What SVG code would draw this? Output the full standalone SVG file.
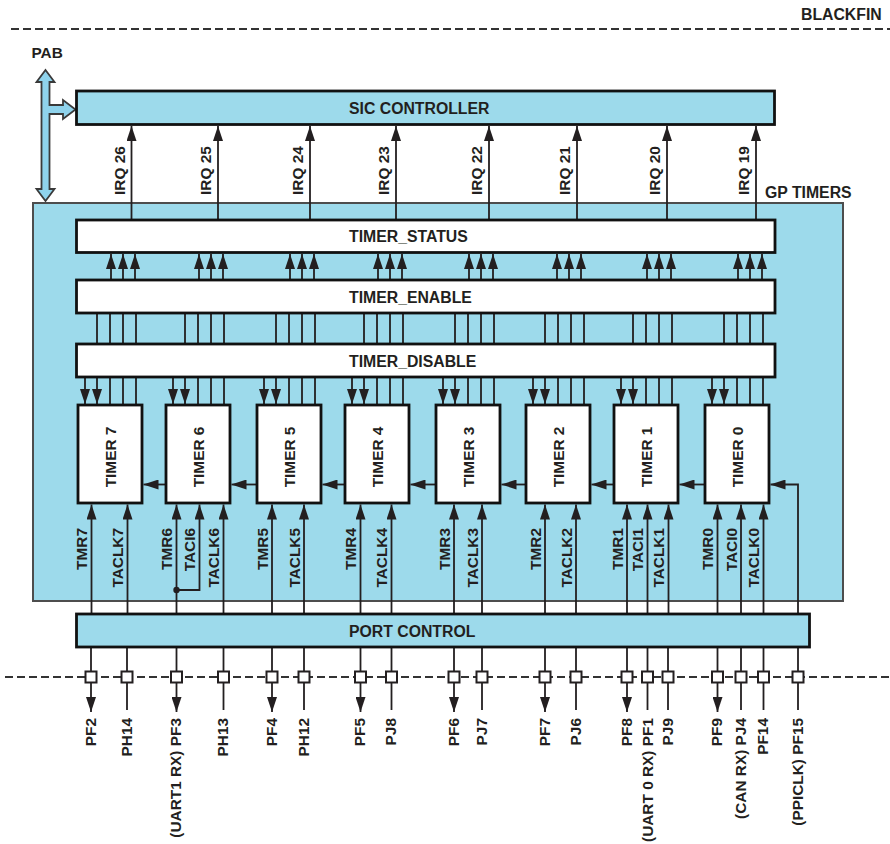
<svg xmlns="http://www.w3.org/2000/svg" width="890" height="844" viewBox="0 0 890 844">
<style>
.t{font-family:"Liberation Sans",Arial,Helvetica,sans-serif;font-weight:bold;font-size:15.4px;fill:#231f20}
.h{font-size:15.8px}
.ln{stroke:#231f20;stroke-width:1.8;fill:none}
.ar{stroke:#231f20;stroke-width:1.8;fill:none;marker-end:url(#ah)}
.blue{fill:#9ddaeb;stroke:#111;stroke-width:2.8}
.white{fill:#fff;stroke:#111;stroke-width:2.8}
.dash{stroke:#333;stroke-width:2;stroke-dasharray:8 4;fill:none}
.sq{fill:#fff;stroke:#231f20;stroke-width:2}
</style>
<defs>
<marker id="ah" viewBox="0 0 15 10" refX="15" refY="5" markerWidth="15" markerHeight="10" markerUnits="userSpaceOnUse" orient="auto"><path d="M0,0 L15,5 L0,10 z" fill="#231f20"/></marker>
</defs>
<rect width="890" height="844" fill="#fff"/>

<!-- boundary -->
<g id="blackfin">
<line class="dash" x1="11" y1="29" x2="890" y2="29"/>
<text class="t h" x="801" y="19.5">BLACKFIN</text>
</g>

<!-- GP timers container -->
<g id="gp-timers">
<rect x="33" y="203" width="810" height="398" fill="#9ddaeb" stroke="#4d4d4d" stroke-width="2"/>
<text class="t h" x="765" y="198">GP TIMERS</text>
</g>

<!-- PAB -->
<g id="pab">
<text class="t" x="31.5" y="58">PAB</text>
<polygon points="45.5,70 54.5,82 49.5,82 49.5,105 63,105 63,100 75.5,109.5 63,119 63,114 49.5,114 49.5,189 54.5,189 45.5,201 36.5,189 41.5,189 41.5,82 36.5,82" fill="#8fd3ec" stroke="#3a3a3a" stroke-width="1.8" stroke-linejoin="miter"/>
</g>

<g id="sic-controller">
<rect class="blue" x="76.5" y="91" width="698" height="33.5"/>
<text class="t h" x="349" y="114">SIC CONTROLLER</text>
</g>

<!-- connectors -->
<g id="connectors">
<!-- IRQ lines -->
<line class="ar" x1="131.5" y1="220" x2="131.5" y2="126"/>
<line class="ar" x1="218" y1="220" x2="218" y2="126"/>
<line class="ar" x1="310" y1="220" x2="310" y2="126"/>
<line class="ar" x1="396" y1="220" x2="396" y2="126"/>
<line class="ar" x1="489" y1="220" x2="489" y2="126"/>
<line class="ar" x1="577" y1="220" x2="577" y2="126"/>
<line class="ar" x1="667" y1="220" x2="667" y2="126"/>
<line class="ar" x1="756" y1="220" x2="756" y2="126"/>

<!-- status arrows -->
<path class="ar" d="M111,280V254"/><path class="ar" d="M123,280V254"/><path class="ar" d="M135,280V254"/>
<path class="ar" d="M199,280V254"/><path class="ar" d="M211,280V254"/><path class="ar" d="M223,280V254"/>
<path class="ar" d="M290,280V254"/><path class="ar" d="M302,280V254"/><path class="ar" d="M314,280V254"/>
<path class="ar" d="M378,280V254"/><path class="ar" d="M390,280V254"/><path class="ar" d="M402,280V254"/>
<path class="ar" d="M469,280V254"/><path class="ar" d="M481,280V254"/><path class="ar" d="M493,280V254"/>
<path class="ar" d="M557,280V254"/><path class="ar" d="M569,280V254"/><path class="ar" d="M581,280V254"/>
<path class="ar" d="M647,280V254"/><path class="ar" d="M659,280V254"/><path class="ar" d="M671,280V254"/>
<path class="ar" d="M738,280V254"/><path class="ar" d="M750,280V254"/><path class="ar" d="M762,280V254"/>

<!-- enable-disable lines -->
<path class="ln" d="M97,313V344M110,313V344M123,313V344M136,313V344"/>
<path class="ln" d="M185,313V344M198,313V344M211,313V344M224,313V344"/>
<path class="ln" d="M276,313V344M289,313V344M302,313V344M315,313V344"/>
<path class="ln" d="M364,313V344M377,313V344M390,313V344M403,313V344"/>
<path class="ln" d="M455,313V344M468,313V344M481,313V344M494,313V344"/>
<path class="ln" d="M545,313V344M558,313V344M571,313V344M584,313V344"/>
<path class="ln" d="M633,313V344M646,313V344M659,313V344M672,313V344"/>
<path class="ln" d="M724,313V344M737,313V344M750,313V344M763,313V344"/>

<!-- disable to timers -->
<path class="ar" d="M85,377V404"/><path class="ar" d="M97,377V404"/>
<path class="ln" d="M110,377V405M123,377V405M136,377V405"/>
<path class="ar" d="M173,377V404"/><path class="ar" d="M185,377V404"/>
<path class="ln" d="M198,377V405M211,377V405M224,377V405"/>
<path class="ar" d="M264,377V404"/><path class="ar" d="M276,377V404"/>
<path class="ln" d="M289,377V405M302,377V405M315,377V405"/>
<path class="ar" d="M352,377V404"/><path class="ar" d="M364,377V404"/>
<path class="ln" d="M377,377V405M390,377V405M403,377V405"/>
<path class="ar" d="M443,377V404"/><path class="ar" d="M455,377V404"/>
<path class="ln" d="M468,377V405M481,377V405M494,377V405"/>
<path class="ar" d="M533,377V404"/><path class="ar" d="M545,377V404"/>
<path class="ln" d="M558,377V405M571,377V405M584,377V405"/>
<path class="ar" d="M621,377V404"/><path class="ar" d="M633,377V404"/>
<path class="ln" d="M646,377V405M659,377V405M672,377V405"/>
<path class="ar" d="M712,377V404"/><path class="ar" d="M724,377V404"/>
<path class="ln" d="M737,377V405M750,377V405M763,377V405"/>

<!-- timer chain -->
<path class="ar" d="M166,484.5H143.5"/>
<path class="ar" d="M257,484.5H231.5"/>
<path class="ar" d="M345,484.5H322.5"/>
<path class="ar" d="M436,484.5H410.5"/>
<path class="ar" d="M526,484.5H501.5"/>
<path class="ar" d="M614,484.5H591.5"/>
<path class="ar" d="M705,484.5H679.5"/>
<path class="ar" d="M798,614V484.5H770.5"/>

<!-- timer inputs from port control -->
<path class="ar" d="M91.5,614V504.5"/>
<path class="ar" d="M127.5,614V504.5"/>
<path class="ar" d="M176.5,614V504.5"/>
<path class="ar" d="M176.5,590H199.5V504.5"/>
<circle cx="176.5" cy="590" r="3.2" fill="#231f20"/>
<path class="ar" d="M223.5,614V504.5"/>
<path class="ar" d="M272,614V504.5"/>
<path class="ar" d="M304,614V504.5"/>
<path class="ar" d="M360.5,614V504.5"/>
<path class="ar" d="M391.5,614V504.5"/>
<path class="ar" d="M454,614V504.5"/>
<path class="ar" d="M482,614V504.5"/>
<path class="ar" d="M545,614V504.5"/>
<path class="ar" d="M576,614V504.5"/>
<path class="ar" d="M627,614V504.5"/>
<path class="ar" d="M647.5,614V504.5"/>
<path class="ar" d="M668.5,614V504.5"/>
<path class="ar" d="M717.5,614V504.5"/>
<path class="ar" d="M741,614V504.5"/>
<path class="ar" d="M763.5,614V504.5"/>

<!-- pins -->
<line class="dash" x1="5" y1="677" x2="890" y2="677"/>
<path class="ar" d="M91,647V712"/>
<path class="ln" d="M127,647V710"/>
<path class="ar" d="M176.5,647V712"/>
<path class="ln" d="M223.5,647V710"/>
<path class="ar" d="M272,647V712"/>
<path class="ln" d="M304,647V710"/>
<path class="ar" d="M360.5,647V712"/>
<path class="ln" d="M391.5,647V710"/>
<path class="ar" d="M454,647V712"/>
<path class="ln" d="M482,647V710"/>
<path class="ar" d="M545,647V712"/>
<path class="ln" d="M576,647V710"/>
<path class="ar" d="M627,647V712"/>
<path class="ln" d="M647.5,647V710"/>
<path class="ln" d="M668,647V710"/>
<path class="ar" d="M717.5,647V712"/>
<path class="ln" d="M741,647V710"/>
<path class="ln" d="M763.5,647V710"/>
<path class="ln" d="M798,647V710"/>
<g>
<rect class="sq" x="85.5" y="671.5" width="11" height="11"/>
<rect class="sq" x="121.5" y="671.5" width="11" height="11"/>
<rect class="sq" x="171" y="671.5" width="11" height="11"/>
<rect class="sq" x="218" y="671.5" width="11" height="11"/>
<rect class="sq" x="266.5" y="671.5" width="11" height="11"/>
<rect class="sq" x="298.5" y="671.5" width="11" height="11"/>
<rect class="sq" x="355" y="671.5" width="11" height="11"/>
<rect class="sq" x="386" y="671.5" width="11" height="11"/>
<rect class="sq" x="448.5" y="671.5" width="11" height="11"/>
<rect class="sq" x="476.5" y="671.5" width="11" height="11"/>
<rect class="sq" x="539.5" y="671.5" width="11" height="11"/>
<rect class="sq" x="570.5" y="671.5" width="11" height="11"/>
<rect class="sq" x="621.5" y="671.5" width="11" height="11"/>
<rect class="sq" x="642" y="671.5" width="11" height="11"/>
<rect class="sq" x="662.5" y="671.5" width="11" height="11"/>
<rect class="sq" x="712" y="671.5" width="11" height="11"/>
<rect class="sq" x="735.5" y="671.5" width="11" height="11"/>
<rect class="sq" x="758" y="671.5" width="11" height="11"/>
<rect class="sq" x="792.5" y="671.5" width="11" height="11"/>
</g>
</g>

<!-- IRQ labels -->
<g id="irq-labels">
<text class="t" transform="translate(124.5,195) rotate(-90)">IRQ 26</text>
<text class="t" transform="translate(211,195) rotate(-90)">IRQ 25</text>
<text class="t" transform="translate(303,195) rotate(-90)">IRQ 24</text>
<text class="t" transform="translate(389,195) rotate(-90)">IRQ 23</text>
<text class="t" transform="translate(482,195) rotate(-90)">IRQ 22</text>
<text class="t" transform="translate(570,195) rotate(-90)">IRQ 21</text>
<text class="t" transform="translate(660,195) rotate(-90)">IRQ 20</text>
<text class="t" transform="translate(749,195) rotate(-90)">IRQ 19</text>
</g>

<g id="timer-status"><rect class="white" x="76.5" y="220" width="698.5" height="32.5"/><text class="t h" x="349" y="242.3">TIMER_STATUS</text></g>
<g id="timer-enable"><rect class="white" x="76.5" y="280" width="698.5" height="33"/><text class="t h" x="349" y="302.5">TIMER_ENABLE</text></g>
<g id="timer-disable"><rect class="white" x="76.5" y="344" width="698.5" height="33"/><text class="t h" x="349" y="366.5">TIMER_DISABLE</text></g>

<g id="timer7"><rect class="white" x="78" y="405" width="64" height="98"/><text class="t" text-anchor="middle" transform="translate(115.5,457) rotate(-90)">TIMER 7</text></g>
<g id="timer6"><rect class="white" x="166" y="405" width="64" height="98"/><text class="t" text-anchor="middle" transform="translate(203.5,457) rotate(-90)">TIMER 6</text></g>
<g id="timer5"><rect class="white" x="257" y="405" width="64" height="98"/><text class="t" text-anchor="middle" transform="translate(294.5,457) rotate(-90)">TIMER 5</text></g>
<g id="timer4"><rect class="white" x="345" y="405" width="64" height="98"/><text class="t" text-anchor="middle" transform="translate(382.5,457) rotate(-90)">TIMER 4</text></g>
<g id="timer3"><rect class="white" x="436" y="405" width="64" height="98"/><text class="t" text-anchor="middle" transform="translate(473.5,457) rotate(-90)">TIMER 3</text></g>
<g id="timer2"><rect class="white" x="526" y="405" width="64" height="98"/><text class="t" text-anchor="middle" transform="translate(563.5,457) rotate(-90)">TIMER 2</text></g>
<g id="timer1"><rect class="white" x="614" y="405" width="64" height="98"/><text class="t" text-anchor="middle" transform="translate(651.5,457) rotate(-90)">TIMER 1</text></g>
<g id="timer0"><rect class="white" x="705" y="405" width="64" height="98"/><text class="t" text-anchor="middle" transform="translate(742.5,457) rotate(-90)">TIMER 0</text></g>

<!-- timer signal labels -->
<g id="signal-labels" text-anchor="end">
<text class="t" transform="translate(87,528) rotate(-90)">TMR7</text>
<text class="t" transform="translate(123,528) rotate(-90)">TACLK7</text>
<text class="t" transform="translate(172,528) rotate(-90)">TMR6</text>
<text class="t" transform="translate(195,528) rotate(-90)">TACI6</text>
<text class="t" transform="translate(219,528) rotate(-90)">TACLK6</text>
<text class="t" transform="translate(267.5,528) rotate(-90)">TMR5</text>
<text class="t" transform="translate(299.5,528) rotate(-90)">TACLK5</text>
<text class="t" transform="translate(356,528) rotate(-90)">TMR4</text>
<text class="t" transform="translate(387,528) rotate(-90)">TACLK4</text>
<text class="t" transform="translate(449.5,528) rotate(-90)">TMR3</text>
<text class="t" transform="translate(477.5,528) rotate(-90)">TACLK3</text>
<text class="t" transform="translate(540.5,528) rotate(-90)">TMR2</text>
<text class="t" transform="translate(571.5,528) rotate(-90)">TACLK2</text>
<text class="t" transform="translate(622.5,528) rotate(-90)">TMR1</text>
<text class="t" transform="translate(643,528) rotate(-90)">TACI1</text>
<text class="t" transform="translate(664,528) rotate(-90)">TACLK1</text>
<text class="t" transform="translate(713,528) rotate(-90)">TMR0</text>
<text class="t" transform="translate(736.5,528) rotate(-90)">TACI0</text>
<text class="t" transform="translate(759,528) rotate(-90)">TACLK0</text>
</g>

<g id="port-control"><rect class="blue" x="76.5" y="614" width="733" height="33"/><text class="t h" x="349" y="637">PORT CONTROL</text></g>

<!-- pin labels -->
<g id="pin-labels" text-anchor="end">
<text class="t" transform="translate(95.5,718) rotate(-90)">PF2</text>
<text class="t" transform="translate(131.5,718) rotate(-90)">PH14</text>
<text class="t" transform="translate(181,718) rotate(-90)">(UART1 RX) PF3</text>
<text class="t" transform="translate(228,718) rotate(-90)">PH13</text>
<text class="t" transform="translate(276.5,718) rotate(-90)">PF4</text>
<text class="t" transform="translate(308.5,718) rotate(-90)">PH12</text>
<text class="t" transform="translate(365,718) rotate(-90)">PF5</text>
<text class="t" transform="translate(396,718) rotate(-90)">PJ8</text>
<text class="t" transform="translate(458.5,718) rotate(-90)">PF6</text>
<text class="t" transform="translate(486.5,718) rotate(-90)">PJ7</text>
<text class="t" transform="translate(549.5,718) rotate(-90)">PF7</text>
<text class="t" transform="translate(580.5,718) rotate(-90)">PJ6</text>
<text class="t" transform="translate(631.5,718) rotate(-90)">PF8</text>
<text class="t" transform="translate(653,718) rotate(-90)">(UART 0 RX) PF1</text>
<text class="t" transform="translate(672.5,718) rotate(-90)">PJ9</text>
<text class="t" transform="translate(722,718) rotate(-90)">PF9</text>
<text class="t" transform="translate(746,718) rotate(-90)">(CAN RX) PJ4</text>
<text class="t" transform="translate(768,718) rotate(-90)">PF14</text>
<text class="t" transform="translate(803,718) rotate(-90)">(PPICLK) PF15</text>
</g>
</svg>
